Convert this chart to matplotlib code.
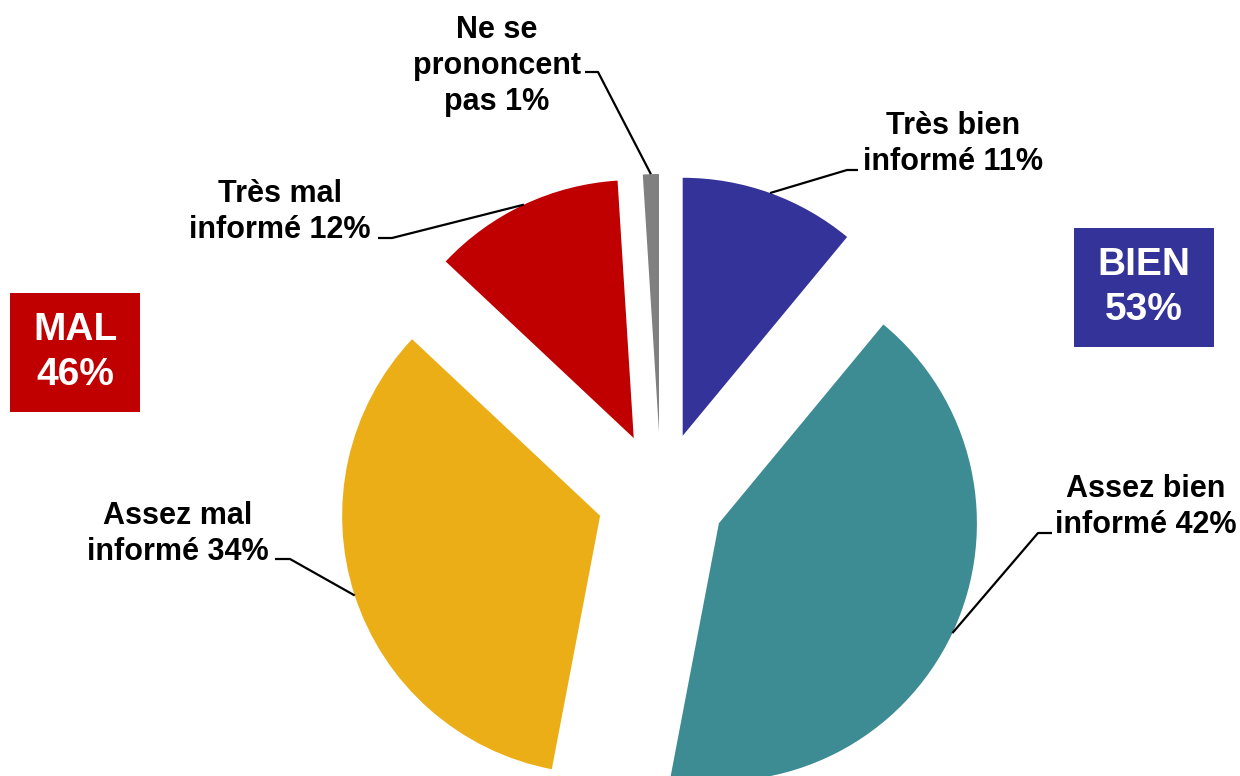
import matplotlib
matplotlib.use("Agg")
import matplotlib.pyplot as plt
import numpy as np
from matplotlib.patches import Rectangle

# chart data
categories = ["Très bien\ninformé", "Assez bien\ninformé", "Assez mal\ninformé",
              "Très mal\ninformé", "Ne se\nprononcent\npas"]
values = [11, 42, 34, 12, 1]
colors = ["#333399", "#3D8B93", "#EBAE17", "#C00000", "#808080"]

groups = ["BIEN", "MAL"]
group_values = [53, 46]
group_colors = ["#333399", "#C00000"]

W, H = 1240, 776


# image coords (y down) -> data coords (y up)
def yy(y):
    return H - y


# label layout: text centre x, last baseline y, elbow point, horizontal end point
label_pos = [
    (953, 170, (847, 170), (858, 170)),
    (1146, 533, (1038, 533), (1052, 533)),
    (178, 560, (290, 559), (275, 559)),
    (280, 238, (392, 238), (378, 238)),
    (497, 110, (598, 72), (585, 72)),
]

plt.rcParams['font.family'] = ['Liberation Sans', 'DejaVu Sans']

fig = plt.figure(figsize=(W / 100, H / 100), dpi=100)
ax = fig.add_axes([0, 0, 1, 1])

wedges, _ = ax.pie(values, colors=colors, startangle=90, counterclock=False,
                   radius=258, center=(661, yy(496)), explode=[64] * len(values),
                   wedgeprops=dict(linewidth=0))

for w, cat, val, (tx, ty, elbow, end) in zip(wedges, categories, values, label_pos):
    mid = np.deg2rad((w.theta1 + w.theta2) / 2)
    px = w.center[0] + w.r * np.cos(mid)
    py = w.center[1] + w.r * np.sin(mid)
    ax.plot([px, elbow[0], end[0]], [py, yy(elbow[1]), yy(end[1])],
            color="black", lw=1.6, solid_capstyle="butt")
    ax.text(tx, yy(ty), f"{cat} {val}%", ha="center", va="baseline",
            fontsize=22, fontweight="bold", linespacing=1.25, multialignment="center")

# group boxes
boxes = [(1074, 228, 140, 119), (10, 293, 130, 119)]
for g, gv, gc, (bx, by, bw, bh) in zip(groups, group_values, group_colors, boxes):
    ax.add_patch(Rectangle((bx, yy(by + bh)), bw, bh, color=gc, lw=0))
    ax.text(bx + bw / 2, yy(by + bh / 2), f"{g}\n{gv}%", ha="center", va="center",
            color="white", fontsize=28, fontweight="bold", linespacing=1.3)

ax.set_xlim(0, W)
ax.set_ylim(0, H)
ax.set_aspect("equal")
ax.axis("off")

fig.savefig("out.png", dpi=100)
